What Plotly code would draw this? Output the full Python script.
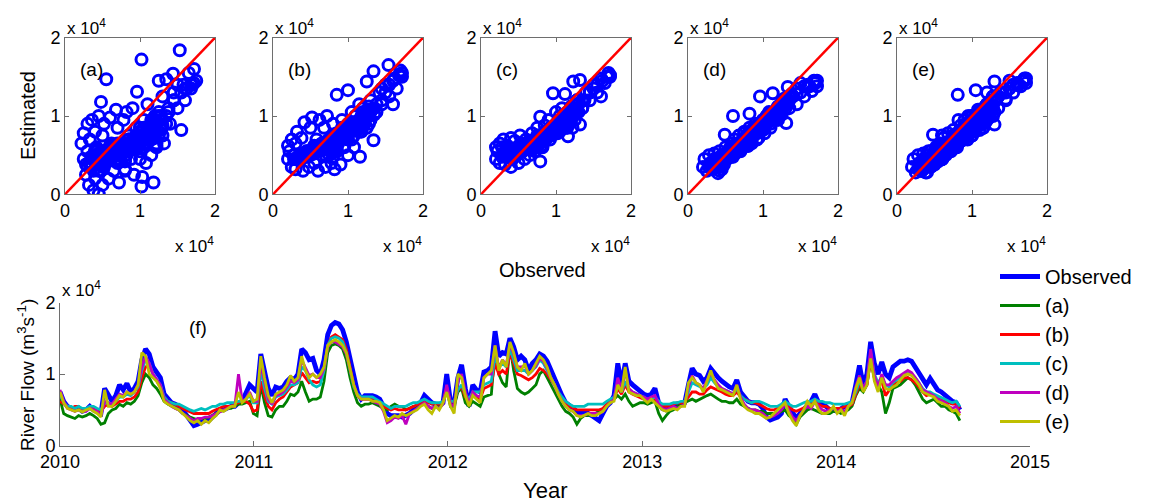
import plotly.graph_objects as go
import pandas as pd

# ---------------- data (values in units of 10^4 m3/s) ----------------
# weekly river flow, starting 2010-01-01
start_date = "2010-01-01"
observed = [
    0.75, 0.62, 0.55, 0.52, 0.50, 0.52, 0.48, 0.50, 0.55, 0.50,
    0.48, 0.45, 0.80, 0.72, 0.62, 0.70, 0.85, 0.78, 0.87, 0.75,
    0.80, 0.90, 1.20, 1.35, 1.28, 1.10, 1.02, 0.95, 0.72, 0.65,
    0.60, 0.58, 0.55, 0.50, 0.42, 0.35, 0.28, 0.30, 0.33, 0.35,
    0.35, 0.40, 0.45, 0.50, 0.50, 0.52, 0.55, 0.55, 0.60, 0.62,
    0.72, 0.85, 0.80, 0.75, 1.28, 1.05, 0.80, 0.70, 0.82, 0.80,
    0.82, 0.90, 0.95, 0.92, 1.00, 1.35, 1.30, 1.20, 1.22, 1.05,
    1.00, 1.20, 1.55, 1.68, 1.72, 1.70, 1.62, 1.45, 1.20, 0.95,
    0.75, 0.65, 0.70, 0.70, 0.70, 0.68, 0.65, 0.55, 0.45, 0.42,
    0.42, 0.42, 0.40, 0.42, 0.45, 0.50, 0.55, 0.60, 0.70, 0.65,
    0.60, 0.58, 0.55, 0.60, 1.00, 0.62, 0.60, 0.95, 1.13, 0.80,
    0.55, 0.85, 0.78, 0.75, 1.03, 1.05, 1.10, 1.60, 1.25, 1.30,
    1.28, 1.50, 1.38, 1.20, 1.25, 1.20, 1.05, 1.15, 1.20, 1.28,
    1.25, 1.18, 1.05, 0.95, 0.82, 0.70, 0.60, 0.55, 0.52, 0.48,
    0.45, 0.45, 0.45, 0.42, 0.38, 0.35, 0.45, 0.55, 0.60, 0.70,
    1.15, 0.85, 1.15, 0.90, 0.85, 0.80, 0.75, 0.72, 0.70, 0.72,
    0.80, 0.60, 0.52, 0.50, 0.52, 0.55, 0.55, 0.58, 0.60, 0.85,
    1.08, 1.00, 0.98, 0.90, 0.95, 1.08, 1.00, 0.95, 0.90, 0.85,
    0.82, 0.80, 0.92, 0.75, 0.68, 0.62, 0.60, 0.60, 0.58, 0.52,
    0.40, 0.36, 0.38, 0.40, 0.45, 0.65, 0.55, 0.45, 0.38, 0.45,
    0.50, 0.55, 0.62, 0.72, 0.60, 0.58, 0.55, 0.50, 0.50, 0.48,
    0.52, 0.55, 0.55, 0.60, 0.85, 1.12, 0.85, 1.00, 1.45, 1.15,
    1.00, 1.17, 1.00, 0.95, 1.10, 1.15, 1.18, 1.18, 1.20, 1.18,
    1.10, 1.00, 0.92, 0.85, 0.94, 0.85, 0.78, 0.75, 0.70, 0.66,
    0.62, 0.60, 0.50,
]
model_a = [
    0.65, 0.45, 0.42, 0.40, 0.38, 0.42, 0.40, 0.42, 0.45, 0.42,
    0.38, 0.30, 0.32, 0.45, 0.50, 0.52, 0.58, 0.55, 0.60, 0.58,
    0.62, 0.70, 0.88, 1.00, 0.95, 0.85, 0.80, 0.72, 0.62, 0.58,
    0.55, 0.52, 0.50, 0.45, 0.42, 0.40, 0.38, 0.36, 0.38, 0.38,
    0.40, 0.42, 0.45, 0.48, 0.50, 0.52, 0.52, 0.55, 0.58, 0.58,
    0.60, 0.62, 0.45, 0.42, 0.85, 0.60, 0.42, 0.40, 0.50, 0.55,
    0.55, 0.62, 0.72, 0.70, 0.75, 0.90, 0.75, 0.62, 0.65, 0.65,
    0.68, 0.90, 1.30, 1.40, 1.42, 1.40, 1.35, 1.20, 0.95, 0.75,
    0.60, 0.55, 0.58, 0.58, 0.60, 0.58, 0.55, 0.52, 0.50, 0.55,
    0.58, 0.55, 0.55, 0.50, 0.52, 0.55, 0.55, 0.58, 0.60, 0.55,
    0.52, 0.55, 0.55, 0.60, 0.80, 0.55, 0.55, 0.75, 0.80, 0.60,
    0.55, 0.62, 0.58, 0.55, 0.68, 0.70, 0.72, 1.35, 1.00, 0.88,
    0.82, 1.40, 1.05, 0.80, 0.75, 0.72, 0.75, 0.80, 0.85, 1.00,
    1.05, 0.95, 0.85, 0.75, 0.65, 0.55, 0.48, 0.45, 0.40, 0.30,
    0.38, 0.42, 0.42, 0.45, 0.45, 0.48, 0.52, 0.55, 0.62, 0.65,
    0.70, 0.65, 0.72, 0.62, 0.55, 0.58, 0.60, 0.60, 0.58, 0.60,
    0.62, 0.45, 0.35, 0.42, 0.48, 0.50, 0.55, 0.58, 0.60, 0.62,
    0.65, 0.62, 0.65, 0.68, 0.70, 0.72, 0.68, 0.65, 0.62, 0.62,
    0.60, 0.60, 0.65, 0.58, 0.55, 0.52, 0.50, 0.50, 0.48, 0.48,
    0.45, 0.45, 0.45, 0.45, 0.48, 0.50, 0.42, 0.38, 0.30, 0.40,
    0.45, 0.50, 0.52, 0.50, 0.48, 0.45, 0.45, 0.45, 0.48, 0.48,
    0.45, 0.48, 0.50, 0.55, 0.70, 0.80, 0.75, 0.85, 1.20, 0.95,
    0.85, 0.75, 0.45, 0.60, 0.80, 0.82, 0.85, 0.90, 0.95, 0.92,
    0.85, 0.75, 0.65, 0.60, 0.62, 0.65, 0.60, 0.55, 0.55, 0.50,
    0.48, 0.45, 0.35,
]
model_b = [
    0.62, 0.58, 0.55, 0.52, 0.55, 0.55, 0.50, 0.50, 0.52, 0.52,
    0.50, 0.48, 0.55, 0.58, 0.55, 0.58, 0.62, 0.62, 0.65, 0.65,
    0.68, 0.75, 0.95, 1.10, 1.12, 1.00, 0.90, 0.82, 0.68, 0.62,
    0.60, 0.58, 0.55, 0.52, 0.50, 0.48, 0.45, 0.45, 0.45, 0.45,
    0.45, 0.48, 0.50, 0.52, 0.55, 0.55, 0.55, 0.58, 0.60, 0.62,
    0.62, 0.58, 0.48, 0.50, 0.90, 0.70, 0.55, 0.50, 0.60, 0.65,
    0.68, 0.75, 0.82, 0.85, 0.88, 1.02, 0.95, 0.88, 0.90, 0.88,
    0.90, 1.05, 1.40, 1.52, 1.55, 1.52, 1.48, 1.35, 1.10, 0.85,
    0.70, 0.65, 0.65, 0.65, 0.65, 0.62, 0.60, 0.55, 0.52, 0.50,
    0.52, 0.50, 0.50, 0.50, 0.52, 0.55, 0.58, 0.60, 0.62, 0.60,
    0.58, 0.58, 0.58, 0.62, 0.82, 0.62, 0.60, 0.78, 0.82, 0.68,
    0.62, 0.70, 0.68, 0.65, 0.80, 0.82, 0.85, 1.15, 1.00, 1.05,
    1.00, 1.30, 1.15, 1.00, 0.98, 0.95, 0.92, 0.95, 1.00, 1.08,
    1.05, 1.00, 0.92, 0.85, 0.75, 0.65, 0.58, 0.55, 0.52, 0.50,
    0.50, 0.50, 0.50, 0.50, 0.50, 0.50, 0.52, 0.58, 0.62, 0.65,
    0.80, 0.72, 0.85, 0.75, 0.72, 0.70, 0.68, 0.65, 0.62, 0.65,
    0.65, 0.58, 0.55, 0.55, 0.55, 0.58, 0.60, 0.60, 0.62, 0.68,
    0.75, 0.75, 0.72, 0.72, 0.78, 0.82, 0.80, 0.78, 0.75, 0.72,
    0.70, 0.70, 0.75, 0.68, 0.65, 0.62, 0.60, 0.60, 0.58, 0.55,
    0.52, 0.50, 0.50, 0.52, 0.55, 0.60, 0.55, 0.50, 0.48, 0.50,
    0.52, 0.55, 0.58, 0.62, 0.58, 0.55, 0.55, 0.52, 0.52, 0.52,
    0.52, 0.55, 0.55, 0.58, 0.72, 0.85, 0.78, 0.85, 1.20, 0.95,
    0.85, 0.90, 0.70, 0.78, 0.85, 0.88, 0.90, 0.95, 0.95, 0.92,
    0.88, 0.82, 0.75, 0.70, 0.72, 0.70, 0.68, 0.65, 0.62, 0.60,
    0.58, 0.58, 0.52,
]
model_c = [
    0.72, 0.60, 0.55, 0.55, 0.52, 0.55, 0.52, 0.52, 0.55, 0.55,
    0.52, 0.50, 0.60, 0.60, 0.58, 0.62, 0.68, 0.68, 0.72, 0.70,
    0.75, 0.82, 1.05, 1.20, 1.15, 1.00, 0.92, 0.85, 0.68, 0.62,
    0.60, 0.58, 0.58, 0.55, 0.52, 0.50, 0.48, 0.50, 0.52, 0.50,
    0.52, 0.55, 0.55, 0.58, 0.58, 0.60, 0.60, 0.60, 0.62, 0.62,
    0.65, 0.70, 0.60, 0.60, 1.05, 0.80, 0.62, 0.58, 0.68, 0.70,
    0.72, 0.78, 0.85, 0.85, 0.88, 1.10, 1.05, 0.92, 0.85, 0.82,
    0.85, 1.05, 1.40, 1.50, 1.52, 1.50, 1.45, 1.30, 1.05, 0.82,
    0.72, 0.68, 0.68, 0.68, 0.68, 0.65, 0.62, 0.58, 0.55, 0.52,
    0.55, 0.55, 0.55, 0.55, 0.58, 0.60, 0.60, 0.62, 0.65, 0.62,
    0.60, 0.60, 0.60, 0.62, 0.78, 0.62, 0.62, 0.78, 0.85, 0.72,
    0.65, 0.75, 0.75, 0.75, 0.85, 0.88, 0.90, 1.25, 1.10, 1.15,
    1.10, 1.35, 1.20, 1.05, 1.05, 1.05, 1.00, 1.05, 1.10, 1.20,
    1.15, 1.05, 0.95, 0.85, 0.75, 0.68, 0.62, 0.58, 0.55, 0.55,
    0.55, 0.55, 0.58, 0.58, 0.58, 0.58, 0.58, 0.62, 0.65, 0.68,
    0.85, 0.75, 0.90, 0.78, 0.75, 0.72, 0.70, 0.68, 0.65, 0.65,
    0.68, 0.62, 0.58, 0.58, 0.58, 0.60, 0.60, 0.62, 0.62, 0.75,
    0.88, 0.85, 0.82, 0.80, 0.85, 0.95, 0.88, 0.82, 0.80, 0.78,
    0.75, 0.72, 0.80, 0.70, 0.65, 0.62, 0.60, 0.62, 0.62, 0.60,
    0.58, 0.55, 0.55, 0.55, 0.58, 0.62, 0.58, 0.55, 0.55, 0.58,
    0.60, 0.62, 0.62, 0.65, 0.62, 0.62, 0.60, 0.60, 0.58, 0.58,
    0.58, 0.58, 0.60, 0.62, 0.75, 0.90, 0.80, 0.90, 1.30, 1.00,
    0.88, 0.95, 0.85, 0.82, 0.88, 0.92, 0.95, 1.00, 1.02, 1.00,
    0.95, 0.88, 0.80, 0.75, 0.75, 0.72, 0.70, 0.68, 0.65, 0.62,
    0.60, 0.62, 0.55,
]
model_d = [
    0.78, 0.62, 0.52, 0.50, 0.48, 0.50, 0.48, 0.48, 0.52, 0.50,
    0.48, 0.42, 0.62, 0.60, 0.58, 0.65, 0.72, 0.70, 0.75, 0.72,
    0.75, 0.85, 1.10, 1.25, 1.15, 1.00, 0.92, 0.85, 0.65, 0.60,
    0.55, 0.52, 0.50, 0.45, 0.42, 0.38, 0.35, 0.38, 0.38, 0.40,
    0.40, 0.42, 0.45, 0.48, 0.50, 0.52, 0.55, 0.55, 1.00, 0.62,
    0.65, 0.75, 0.62, 0.62, 1.15, 0.90, 0.65, 0.58, 0.70, 0.72,
    0.75, 0.82, 0.90, 0.88, 0.92, 1.20, 1.10, 0.98, 1.00, 0.95,
    0.95, 1.08, 1.38, 1.45, 1.45, 1.42, 1.38, 1.28, 1.05, 0.85,
    0.70, 0.65, 0.65, 0.65, 0.62, 0.60, 0.58, 0.48, 0.32, 0.35,
    0.40, 0.38, 0.42, 0.30, 0.45, 0.48, 0.52, 0.55, 0.60, 0.55,
    0.52, 0.55, 0.52, 0.58, 0.85, 0.58, 0.55, 0.90, 1.00, 0.75,
    0.58, 0.75, 0.70, 0.68, 0.95, 1.00, 1.00, 1.40, 1.08, 1.20,
    1.12, 1.42, 1.28, 1.10, 1.10, 1.12, 1.00, 1.05, 1.12, 1.22,
    1.18, 1.08, 0.95, 0.85, 0.72, 0.62, 0.55, 0.50, 0.48, 0.42,
    0.42, 0.42, 0.45, 0.45, 0.45, 0.45, 0.48, 0.55, 0.60, 0.65,
    0.95, 0.78, 1.05, 0.80, 0.75, 0.72, 0.70, 0.68, 0.65, 0.68,
    0.70, 0.58, 0.52, 0.50, 0.52, 0.55, 0.52, 0.55, 0.58, 0.82,
    0.98, 0.88, 0.85, 0.80, 0.90, 1.02, 0.92, 0.85, 0.80, 0.78,
    0.75, 0.72, 0.85, 0.68, 0.58, 0.52, 0.50, 0.50, 0.48, 0.45,
    0.40, 0.40, 0.42, 0.45, 0.50, 0.58, 0.50, 0.40, 0.35, 0.42,
    0.50, 0.55, 0.52, 0.62, 0.55, 0.50, 0.48, 0.50, 0.52, 0.48,
    0.50, 0.48, 0.55, 0.60, 0.82, 0.98, 0.80, 0.90, 1.35, 0.98,
    0.82, 1.00, 0.85, 0.85, 0.90, 0.95, 0.98, 1.02, 1.05, 1.02,
    0.95, 0.88, 0.78, 0.75, 0.72, 0.70, 0.65, 0.62, 0.60, 0.55,
    0.52, 0.55, 0.45,
]
model_e = [
    0.75, 0.60, 0.52, 0.50, 0.48, 0.50, 0.47, 0.50, 0.52, 0.48,
    0.45, 0.40, 0.78, 0.55, 0.55, 0.62, 0.70, 0.68, 0.75, 0.72,
    0.75, 0.85, 1.30, 1.25, 1.00, 0.95, 0.90, 0.80, 0.62, 0.58,
    0.55, 0.52, 0.50, 0.45, 0.40, 0.35, 0.32, 0.35, 0.30, 0.35,
    0.32, 0.38, 0.42, 0.50, 0.48, 0.52, 0.55, 0.55, 0.75, 0.60,
    0.65, 0.72, 0.62, 0.65, 1.25, 0.95, 0.70, 0.60, 0.72, 0.75,
    0.78, 0.85, 0.98, 0.90, 0.95, 1.25, 1.05, 0.95, 1.00, 0.95,
    1.00, 1.10, 1.40, 1.45, 1.48, 1.45, 1.40, 1.30, 1.05, 0.85,
    0.70, 0.65, 0.65, 0.65, 0.62, 0.62, 0.60, 0.50, 0.35, 0.38,
    0.42, 0.40, 0.45, 0.42, 0.45, 0.48, 0.50, 0.55, 0.58, 0.50,
    0.45, 0.55, 0.50, 0.60, 0.75, 0.55, 0.45, 1.00, 0.95, 0.70,
    0.55, 0.70, 0.65, 0.60, 0.95, 1.00, 1.05, 1.40, 1.05, 1.20,
    1.10, 1.45, 1.30, 1.10, 1.05, 1.15, 1.00, 1.05, 1.15, 1.25,
    1.20, 1.10, 0.95, 0.85, 0.72, 0.62, 0.55, 0.50, 0.48, 0.42,
    0.40, 0.42, 0.45, 0.42, 0.42, 0.45, 0.48, 0.55, 0.60, 0.62,
    0.85, 0.75, 1.10, 0.75, 0.72, 0.70, 0.70, 0.65, 0.60, 0.65,
    0.60, 0.55, 0.50, 0.48, 0.50, 0.52, 0.50, 0.55, 0.55, 0.88,
    0.95, 0.88, 0.85, 0.75, 0.90, 1.05, 0.90, 0.80, 0.78, 0.75,
    0.72, 0.70, 0.85, 0.65, 0.55, 0.50, 0.48, 0.45, 0.45, 0.42,
    0.38, 0.40, 0.45, 0.50, 0.55, 0.60, 0.45, 0.35, 0.28, 0.42,
    0.50, 0.62, 0.55, 0.62, 0.50, 0.45, 0.45, 0.48, 0.55, 0.45,
    0.50, 0.42, 0.55, 0.60, 0.80, 0.95, 0.75, 0.85, 1.22, 0.90,
    0.75, 0.95, 0.80, 0.78, 0.82, 0.85, 0.92, 0.98, 1.00, 0.98,
    0.92, 0.85, 0.75, 0.72, 0.70, 0.68, 0.62, 0.60, 0.58, 0.55,
    0.48, 0.50, 0.42,
]

# additional (observed, estimated) pairs shown only in the scatter panels
extra_obs_a = [0.22, 0.25, 0.25, 0.28, 0.30, 0.30, 0.32, 0.33, 0.35, 0.36, 0.38, 0.40, 0.40, 0.42,
               0.45, 0.45, 0.47, 0.48, 0.50, 0.50, 0.52, 0.55, 0.55, 0.58, 0.60, 0.62, 0.65, 0.68,
               0.70, 0.72, 0.75, 0.78, 0.80, 0.82, 0.85, 0.88, 0.90, 0.92, 0.95, 0.96, 1.00, 1.02,
               1.02, 1.03, 1.05, 1.08, 1.10, 1.12, 1.15, 1.18, 1.20, 1.22, 1.25, 1.28, 1.30, 1.32,
               1.35, 1.38, 1.40, 1.44, 1.45, 1.50, 1.53, 1.55, 1.58, 1.60, 1.65, 1.68, 1.72, 1.75]
extra_est_a = [0.65, 0.45, 0.78, 0.25, 0.90, 0.55, 0.12, 0.70, 0.35, 0.95, 0.05, 0.80, 0.20, 0.60,
               0.00, 1.00, 0.30, 1.18, 0.75, 0.12, 0.90, 1.47, 0.45, 0.20, 0.98, 0.65, 0.30, 1.08,
               0.85, 0.15, 0.50, 0.95, 0.30, 1.05, 0.70, 0.45, 1.10, 0.25, 0.85, 1.31, 0.55, 1.72,
               0.10, 0.22, 0.95, 0.40, 1.15, 0.70, 0.50, 0.15, 1.00, 0.60, 1.45, 0.85, 1.25, 0.65,
               1.47, 1.10, 0.90, 1.54, 1.30, 1.10, 1.84, 0.82, 1.40, 1.20, 1.55, 1.35, 1.60, 1.45]
extra_obs_b = [0.20, 0.20, 0.22, 0.25, 0.25, 0.28, 0.30, 0.30, 0.32, 0.35, 0.38, 0.40, 0.42, 0.45,
               0.48, 0.50, 0.52, 0.55, 0.58, 0.60, 0.62, 0.65, 0.68, 0.70, 0.72, 0.75, 0.78, 0.80,
               0.82, 0.85, 0.85, 0.88, 0.90, 0.92, 0.95, 1.00, 1.00, 1.02, 1.05, 1.08, 1.10, 1.15,
               1.16, 1.18, 1.20, 1.25, 1.25, 1.30, 1.34, 1.34, 1.38, 1.42, 1.45, 1.50, 1.54, 1.55,
               1.60, 1.65, 1.70, 1.72]
extra_est_b = [0.45, 0.62, 0.55, 0.70, 0.35, 0.50, 0.65, 0.32, 0.80, 0.45, 0.72, 0.30, 0.92, 0.55,
               0.35, 0.85, 0.98, 0.40, 0.70, 0.30, 0.95, 0.50, 0.85, 0.35, 1.00, 0.60, 0.40, 0.90,
               0.32, 1.27, 0.55, 0.75, 0.38, 0.95, 0.60, 1.33, 0.50, 0.80, 1.05, 0.60, 0.90, 1.15,
               0.48, 0.80, 1.00, 1.44, 0.85, 1.20, 1.57, 0.69, 1.05, 1.30, 1.15, 1.40, 1.65, 1.25,
               1.45, 1.35, 1.58, 1.50]
extra_obs_c = [0.20, 0.20, 0.22, 0.25, 0.25, 0.28, 0.30, 0.30, 0.32, 0.35, 0.38, 0.40, 0.40, 0.42,
               0.45, 0.48, 0.50, 0.52, 0.55, 0.58, 0.60, 0.62, 0.65, 0.68, 0.70, 0.72, 0.75, 0.78,
               0.79, 0.79, 0.82, 0.85, 0.88, 0.90, 0.92, 0.96, 0.98, 1.00, 1.02, 1.05, 1.08, 1.10,
               1.12, 1.15, 1.16, 1.20, 1.23, 1.25, 1.28, 1.32, 1.32, 1.35, 1.40, 1.45, 1.50, 1.55,
               1.60, 1.65, 1.70, 1.72]
extra_est_c = [0.60, 0.45, 0.55, 0.65, 0.40, 0.60, 0.50, 0.70, 0.38, 0.62, 0.55, 0.35, 0.72, 0.45,
               0.68, 0.50, 0.40, 0.75, 0.55, 0.45, 0.70, 0.60, 0.50, 0.78, 0.62, 0.55, 0.85, 0.68,
               0.99, 0.42, 0.60, 0.88, 0.72, 0.95, 0.70, 1.29, 0.85, 1.05, 0.78, 0.95, 1.10, 0.85,
               1.28, 1.00, 0.74, 1.12, 1.44, 0.95, 1.20, 1.46, 0.89, 1.10, 1.30, 1.20, 1.40, 1.30,
               1.48, 1.42, 1.55, 1.50]
extra_obs_d = [0.20, 0.22, 0.25, 0.28, 0.30, 0.32, 0.35, 0.38, 0.40, 0.42, 0.45, 0.48, 0.49, 0.50,
               0.55, 0.58, 0.60, 0.62, 0.65, 0.68, 0.70, 0.72, 0.75, 0.78, 0.80, 0.82, 0.82, 0.85,
               0.88, 0.90, 0.92, 0.95, 0.96, 1.00, 1.02, 1.05, 1.08, 1.10, 1.13, 1.15, 1.20, 1.22,
               1.25, 1.30, 1.31, 1.33, 1.35, 1.40, 1.45, 1.50, 1.55, 1.60, 1.65, 1.70, 1.72]
extra_est_d = [0.35, 0.45, 0.30, 0.50, 0.40, 0.32, 0.52, 0.42, 0.27, 0.55, 0.45, 0.38, 0.76, 0.60,
               0.50, 0.65, 0.48, 0.70, 0.58, 0.75, 0.55, 0.68, 0.80, 0.62, 0.72, 1.03, 0.85, 0.65,
               0.78, 0.90, 0.70, 0.85, 1.25, 0.95, 0.78, 0.90, 1.05, 0.85, 1.29, 1.00, 0.95, 1.12,
               1.02, 1.20, 0.91, 1.37, 1.10, 1.25, 1.15, 1.30, 1.25, 1.38, 1.32, 1.43, 1.38]
extra_obs_e = [0.20, 0.22, 0.25, 0.28, 0.30, 0.32, 0.35, 0.38, 0.40, 0.42, 0.45, 0.48, 0.50, 0.52,
               0.55, 0.58, 0.60, 0.62, 0.65, 0.68, 0.70, 0.72, 0.75, 0.78, 0.80, 0.81, 0.82, 0.85,
               0.88, 0.90, 0.92, 0.95, 1.00, 1.02, 1.05, 1.05, 1.08, 1.10, 1.15, 1.20, 1.22, 1.25,
               1.30, 1.30, 1.32, 1.35, 1.40, 1.45, 1.50, 1.55, 1.60, 1.65, 1.70, 1.72]
extra_est_e = [0.35, 0.45, 0.28, 0.50, 0.40, 0.30, 0.52, 0.42, 0.28, 0.55, 0.45, 0.76, 0.38, 0.60,
               0.50, 0.65, 0.45, 0.72, 0.58, 0.78, 0.55, 0.70, 0.82, 0.62, 0.75, 1.27, 0.95, 0.68,
               0.85, 0.95, 0.72, 0.88, 1.00, 0.80, 1.33, 0.95, 1.08, 0.88, 1.05, 1.15, 0.98, 1.10,
               1.44, 0.89, 1.20, 1.10, 1.30, 1.20, 1.35, 1.30, 1.42, 1.38, 1.48, 1.42]

model_names = ["(a)", "(b)", "(c)", "(d)", "(e)"]
models = [model_a, model_b, model_c, model_d, model_e]
extra_obs = [extra_obs_a, extra_obs_b, extra_obs_c, extra_obs_d, extra_obs_e]
extra_est = [extra_est_a, extra_est_b, extra_est_c, extra_est_d, extra_est_e]
series_names = ["Observed"] + model_names
series_colors = ["#0000FF", "#008000", "#FF0000", "#00BFBF", "#BF00BF", "#BFBF00"]
scatter_limits = [0, 2]           # axis limits and 1:1 line end points (x 10^4)
scatter_ticks = [0, 1, 2]
flow_ticks = [0, 1, 2]
year_ticks = ["2010", "2011", "2012", "2013", "2014", "2015"]

# ---------------- layout helpers ----------------
W, H = 1150, 503
def px(x):
    return x / W
def py(y):
    return 1 - y / H

FONT = "Liberation Sans, Arial, Helvetica, sans-serif"
AXC = "#6e6e6e"

dates = pd.date_range(start_date, periods=len(observed), freq="7D")

fig = go.Figure()

panel_left = [65, 273, 481, 688, 897]
panel_w = 150
panel_top, panel_bot = 37.7, 194.3

# scatter panels
for i, (name, est) in enumerate(zip(model_names, models)):
    n = i + 1
    xa = "x" if n == 1 else f"x{n}"
    ya = "y" if n == 1 else f"y{n}"
    sx = list(observed) + list(extra_obs[i])
    sy = list(est) + list(extra_est[i])
    fig.add_trace(go.Scatter(
        x=sx, y=sy, mode="markers", xaxis=xa, yaxis=ya, showlegend=False,
        marker=dict(symbol="circle-open", size=11, color="#0000FF", line=dict(width=3, color="#0000FF")),
        hoverinfo="skip"))
    fig.add_trace(go.Scatter(
        x=scatter_limits, y=scatter_limits, mode="lines", xaxis=xa, yaxis=ya, showlegend=False,
        line=dict(color="#FF0000", width=2.5), hoverinfo="skip"))
    axkw = dict(range=scatter_limits, tickvals=scatter_ticks, ticks="inside", ticklen=4,
                tickcolor=AXC, showline=True, linecolor=AXC, linewidth=1, mirror="allticks",
                showgrid=False, zeroline=False, automargin=False,
                tickfont=dict(family=FONT, size=18, color="black"))
    L = panel_left[i]
    fig.layout[f"xaxis{'' if n == 1 else n}"] = dict(domain=[px(L), px(L + panel_w)], anchor=ya, **axkw)
    fig.layout[f"yaxis{'' if n == 1 else n}"] = dict(domain=[py(panel_bot), py(panel_top)], anchor=xa, **axkw)
    # panel letter
    fig.add_annotation(x=0.35, y=1.6, xref=xa, yref=ya, text=name, showarrow=False,
                       xanchor="center", yanchor="middle",
                       font=dict(family=FONT, size=19, color="black"))
    # exponent labels
    fig.add_annotation(x=px(L), y=py(panel_top + 2), xref="paper", yref="paper", xanchor="left",
                       yanchor="bottom", text="x 10<sup>4</sup>", showarrow=False,
                       font=dict(family=FONT, size=17, color="black"))
    fig.add_annotation(x=px(L + panel_w + 1), y=py(245), xref="paper", yref="paper", xanchor="right",
                       yanchor="middle", text="x 10<sup>4</sup>", showarrow=False,
                       font=dict(family=FONT, size=17, color="black"))

# time series panel
all_series = [observed] + models
for name, vals, col in zip(series_names, all_series, series_colors):
    fig.add_trace(go.Scatter(
        x=dates, y=vals, mode="lines", name=name, xaxis="x6", yaxis="y6",
        line=dict(color=col, width=4.8 if name == "Observed" else 2.8), hoverinfo="skip"))

year_dates = [f"{y}-01-01" for y in year_ticks]
fig.layout["xaxis6"] = dict(domain=[px(60), px(1030)], anchor="y6", type="date",
                            range=[year_dates[0], year_dates[-1]], tickvals=year_dates, ticktext=year_ticks,
                            ticks="inside", ticklen=5, tickcolor=AXC, showline=True, linecolor=AXC,
                            linewidth=1, showgrid=False, zeroline=False, automargin=False,
                            tickfont=dict(family=FONT, size=18, color="black"))
fig.layout["yaxis6"] = dict(domain=[py(445.7), py(302.5)], anchor="x6", range=[0, 2],
                            tickvals=flow_ticks, ticks="inside", ticklen=5, tickcolor=AXC, showline=True,
                            linecolor=AXC, linewidth=1, showgrid=False, zeroline=False, automargin=False,
                            tickfont=dict(family=FONT, size=18, color="black"))

# text labels
def label(x, y, text, size, angle=0, xanchor="center", yanchor="middle"):
    fig.add_annotation(x=px(x), y=py(y), xref="paper", yref="paper", text=text, textangle=angle,
                       xanchor=xanchor, yanchor=yanchor, showarrow=False,
                       font=dict(family=FONT, size=size, color="black"))

label(28, 116, "Estimated", 20, angle=-90)
label(542, 270, "Observed", 20)
label(26, 375, "River Flow (m<sup>3</sup>s<sup>-1</sup>)", 19, angle=-90)
label(198, 327, "(f)", 19)
label(545, 490, "Year", 22)
label(60, 302, "x 10<sup>4</sup>", 17, xanchor="left", yanchor="bottom")

fig.update_layout(
    template="none",
    width=W, height=H, margin=dict(l=0, r=0, t=0, b=0, autoexpand=False),
    plot_bgcolor="white", paper_bgcolor="white",
    font=dict(family=FONT, color="black"),
    showlegend=True,
    legend=dict(x=px(995), y=py(257), xanchor="left", yanchor="top", bgcolor="rgba(0,0,0,0)",
                font=dict(family=FONT, size=20, color="black"), tracegroupgap=0, itemwidth=40),
)

fig.write_html("out.html")
